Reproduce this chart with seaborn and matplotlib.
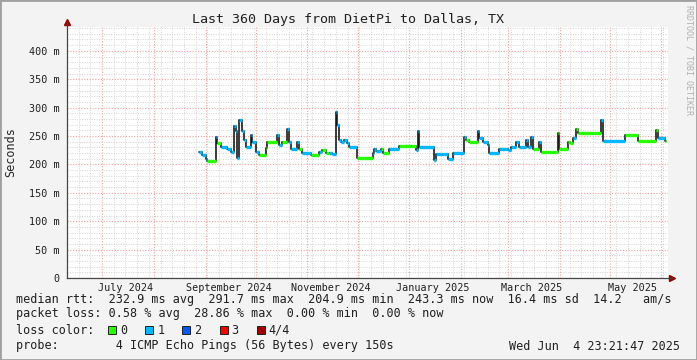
import matplotlib
matplotlib.use("Agg")
import matplotlib.pyplot as plt
import matplotlib.dates as mdates
from matplotlib.patches import Rectangle
from matplotlib.ticker import MultipleLocator, FuncFormatter
import pandas as pd
import seaborn as sns

# step breakpoints: day offset from graph start, median rtt (ms), lost pings (0/1)
days = [79, 81, 83, 84, 89, 90, 92, 96, 98, 100, 101, 102, 103, 105, 106, 107, 110, 111, 113, 115,
        119, 120, 126, 127, 129, 132, 133, 134, 138, 139, 141,
        146, 151, 153, 155, 157, 159, 161, 162, 163, 164, 166, 168, 169, 174, 183, 184, 185, 188, 189,
        193, 199, 206, 209, 210, 211,
        220, 221, 228, 231, 238, 239, 241, 246, 247, 249, 252, 253, 259, 264, 266, 269, 271, 275, 276,
        278, 279, 283, 284,
        294, 295, 300, 301, 303, 305, 306, 320, 321, 334, 342, 353, 354, 358, 359]
rtt = [222, 216, 209, 206, 248, 237, 231, 228, 222, 267, 258, 212, 278, 258, 243, 230, 252, 240, 222, 217,
       229, 240, 252, 235, 240, 262, 240, 227, 240, 227, 220,
       217, 222, 226, 221, 220, 218, 293, 270, 243, 240, 243, 237, 230, 211, 220, 227, 224, 228, 220,
       228, 232, 233, 225, 258, 231,
       208, 218, 209, 221, 249, 243, 240, 258, 246, 240, 234, 220, 228, 226, 231, 240, 231, 243, 231,
       249, 227, 240, 222,
       255, 228, 240, 237, 246, 262, 255, 278, 242, 252, 242, 261, 246, 242, 242]
loss = [1, 1, 1, 0, 1, 0, 1, 1, 1, 1, 1, 1, 1, 1, 1, 1, 1, 1, 1, 0,
        0, 0, 1, 1, 0, 1, 1, 1, 1, 0, 1,
        0, 1, 0, 0, 1, 1, 1, 1, 1, 1, 1, 1, 1, 0, 1, 1, 1, 0, 0,
        1, 0, 0, 1, 1, 1,
        1, 1, 1, 1, 1, 0, 0, 1, 1, 1, 1, 1, 1, 1, 1, 1, 1, 1, 1,
        1, 0, 1, 0,
        0, 0, 0, 0, 1, 0, 0, 1, 1, 0, 0, 0, 1, 0, 0]

loss_colors = ["#26ff00", "#00b8ff", "#0059ff", "#ff0000", "#a10000"]
loss_labels = ["0", "1", "2", "3", "4/4"]
label_months = ["2024-07-15", "2024-09-15", "2024-11-15", "2025-01-15", "2025-03-15", "2025-05-15"]
label_texts = ["July 2024", "September 2024", "November 2024", "January 2025", "March 2025", "May 2025"]

start = pd.Timestamp("2024-06-09 23:21:47")
end = pd.Timestamp("2025-06-04 23:21:47")

df = pd.DataFrame({"time": start + pd.to_timedelta(days, unit="D"), "rtt": rtt, "loss": loss})

sns.set_style("white")
plt.rcParams["font.family"] = ["DejaVu Sans Mono"]

W, H = 697, 360
fig = plt.figure(figsize=(W / 100, H / 100), dpi=100, facecolor="#f3f3f3")
ax = fig.add_axes([67 / W, 82 / H, 601 / W, 251 / H], facecolor="white")

sns.lineplot(data=df, x="time", y="rtt", estimator=None, drawstyle="steps-post",
             color="#1a1a1a", lw=1.2, ax=ax, legend=False, zorder=3)
tnum = mdates.date2num(df["time"])
ax.hlines(df["rtt"].to_numpy()[:-1], tnum[:-1], tnum[1:],
          colors=[loss_colors[l] for l in loss[:-1]], lw=2.4, zorder=4)

ax.set_xlim(start, end)
ax.set_ylim(0, 442)

ax.xaxis.set_major_locator(mdates.MonthLocator())
ax.xaxis.set_minor_locator(mdates.WeekdayLocator(byweekday=mdates.MO))
ax.yaxis.set_major_locator(MultipleLocator(50))
ax.yaxis.set_minor_locator(MultipleLocator(10))
ax.yaxis.set_major_formatter(FuncFormatter(lambda v, p: f"{int(v)} m" if v else "0"))
ax.xaxis.set_major_formatter(FuncFormatter(lambda v, p: ""))

ax.grid(which="minor", color="#d4d4d4", ls=(0, (1, 1.5)), lw=0.7)
ax.grid(which="major", color="#f2a0a0", ls=(0, (1, 1.5)), lw=0.8)
ax.set_axisbelow(True)

for s in ["top", "right"]:
    ax.spines[s].set_visible(False)
for s in ["left", "bottom"]:
    ax.spines[s].set_color("#444444")
    ax.spines[s].set_linewidth(0.9)
ax.tick_params(axis="y", which="both", length=0, labelsize=7.3, pad=5.5, labelcolor="#202020")
ax.tick_params(axis="x", which="minor", length=2, direction="out", color="#444444")
ax.tick_params(axis="x", which="major", length=3, direction="out", color="#444444")
ax.set_xlabel("")
ax.set_ylabel("Seconds", fontsize=8.5, labelpad=8)

# arrows at axis ends
ax.plot([0], [1.02], marker="^", color="#990000", ms=4, transform=ax.transAxes, clip_on=False)
ax.plot([1.006], [0], marker=">", color="#990000", ms=4, transform=ax.transAxes, clip_on=False)
ax.plot([0, 0], [1, 1.02], color="#444444", lw=0.9, transform=ax.transAxes, clip_on=False)
ax.plot([1, 1.006], [0, 0], color="#444444", lw=0.9, transform=ax.transAxes, clip_on=False)

for d, t in zip(label_months, label_texts):
    ax.text(mdates.date2num(pd.Timestamp(d)), -0.02, t, transform=ax.get_xaxis_transform(),
            ha="center", va="top", fontsize=7.3, color="#202020")

fig.text(348 / W, 1 - 19 / H, "Last 360 Days from DietPi to Dallas, TX",
         ha="center", va="center", fontsize=9.6, color="#202020")
fig.text(689 / W, 1 - 5 / H, "RRDTOOL / TOBI OETIKER", rotation=270, ha="center", va="top",
         fontsize=6, color="#b0b0b0")

lines = [
    (299, "median rtt:  232.9 ms avg  291.7 ms max  204.9 ms min  243.3 ms now  16.4 ms sd  14.2   am/s"),
    (314, "packet loss: 0.58 % avg  28.86 % max  0.00 % min  0.00 % now"),
    (330, "loss color:"),
    (346, "probe:        4 ICMP Echo Pings (56 Bytes) every 150s"),
]
for y, t in lines:
    fig.text(16 / W, 1 - y / H, t, ha="left", va="center", fontsize=8.45, color="#202020")
fig.text(680 / W, 1 - 346 / H, "Wed Jun  4 23:21:47 2025", ha="right", va="center",
         fontsize=8.45, color="#202020")

for i, (c, lab) in enumerate(zip(loss_colors, loss_labels)):
    x0 = 108 + i * 37.2
    fig.patches.append(Rectangle((x0 / W, 1 - 334 / H), 8 / W, 8 / H, transform=fig.transFigure,
                                 facecolor=c, edgecolor="#202020", lw=0.7))
    fig.text((x0 + 12) / W, 1 - 330 / H, lab, ha="left", va="center", fontsize=8.45, color="#202020")

# frame
fig.patches.append(Rectangle((0, 0), 1, 1, transform=fig.transFigure, fill=False,
                             edgecolor="#a0a0a0", lw=2))

fig.savefig("out.png", dpi=100, facecolor=fig.get_facecolor())
